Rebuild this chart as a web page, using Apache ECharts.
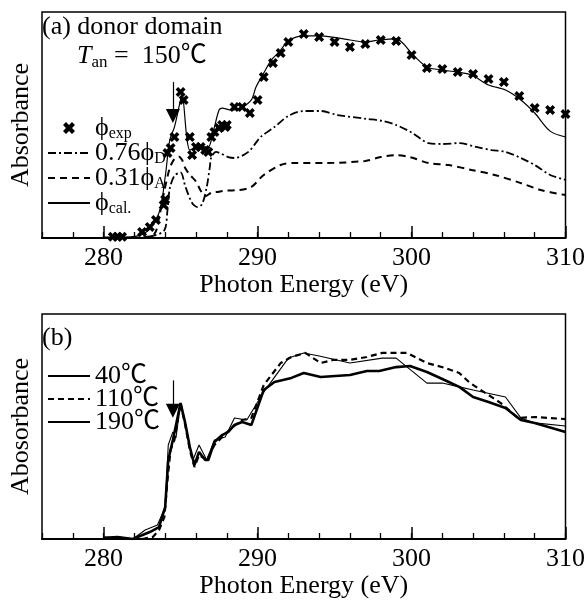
<!DOCTYPE html>
<html>
<head>
<meta charset="utf-8">
<script src="https://cdn.jsdelivr.net/npm/echarts@6/dist/echarts.min.js"></script>
<style>
  html, body { margin: 0; padding: 0; background: #fff; }
  #chart { width: 588px; height: 603px; }
</style>
</head>
<body>
<div id="chart"></div>
<script>
// photon energy axis (eV)
const eMin = 276;
const eMax = 310;
const majorTicks = [280, 290, 300, 310];
const arrowE = 284.5;

// (a) donor domain, Tan = 150C  -- [energy, absorbance (arb.)]
const phiExp = [
  [280.6, 0.5], [280.9, 0.5], [281.2, 0.5], [282.5, 2.7], [283.0, 4.9], [283.4, 8.0],
  [283.9, 14.6], [284.0, 17], [284.15, 37.6], [284.35, 39.8], [284.6, 44.7],
  [285.0, 64.6], [285.2, 61.1], [285.6, 44.7], [285.75, 36.7], [286.0, 40.3],
  [286.3, 40.3], [286.6, 38.9], [286.8, 38.1], [287.0, 44.7], [287.2, 46.9],
  [287.5, 48.7], [287.7, 50.0], [287.9, 49.1], [288.0, 50.0], [288.5, 58.0],
  [289.0, 58.0], [289.5, 55.3], [290.0, 61.1], [290.4, 71.2], [291.0, 77.4],
  [291.5, 81.9], [292.0, 86.7], [293, 90.3], [294, 88.9], [295, 86.7], [296, 84.5],
  [297, 85.8], [298, 87.6], [299, 87.2], [300, 81.0], [301, 75.2], [302, 74.8],
  [303, 73.5], [304, 72.6], [305, 70.4], [306, 69.0], [307, 62.8], [308, 57.5],
  [309, 56.6], [310, 54.9]
];
const phiD = [
  [281.9, 0], [283.2, 0.9], [283.95, 3.5], [284.15, 12.4], [284.3, 22], [284.6, 27.5],
  [285.0, 29], [285.3, 23], [285.75, 15.5], [286.1, 13.7], [286.4, 15.0], [286.7, 22.6],
  [286.9, 31.4], [287.0, 35.8], [287.3, 38.1], [287.55, 37.6], [288.1, 35.8],
  [288.5, 35.4], [289.4, 38.1], [290.2, 44.7], [291.1, 49.1], [292.0, 54.0],
  [293.0, 56.2], [294.1, 56.2], [295.2, 54.4], [297.1, 52.7], [298.1, 51.8],
  [299.0, 50.0], [300.05, 46.5], [301.1, 42.0], [302.0, 41.6], [303.1, 42.0],
  [304.2, 40.3], [305.2, 38.9], [306.1, 38.1], [307.1, 35.4], [308.0, 32.3],
  [309.0, 27.9], [310.0, 25.7]
];
const phiA = [
  [282.5, 0], [283.3, 1.8], [283.6, 9], [283.95, 21], [284.3, 31], [284.6, 35],
  [284.9, 36], [285.1, 34.5], [285.3, 31], [285.6, 28], [286.0, 25], [286.3, 21],
  [286.6, 18.5], [287.0, 20], [287.5, 20.5], [288.0, 21], [288.8, 21.2], [289.6, 22.6],
  [290.4, 27.9], [291.5, 32.3], [292.4, 33.2], [294.5, 33.2], [297.0, 34.1],
  [298.0, 35.8], [299.0, 36.7], [299.9, 35.8], [301.1, 33.2], [302.4, 32.3],
  [303.9, 30.1], [305.4, 27.9], [307.1, 24.3], [308.4, 21.2], [310, 19.0]
];
const phiCal = [
  [280.0, 0.4], [281.3, 0.4], [282.7, 2.2], [283.6, 11.1], [284.0, 27.0], [284.3, 43.4],
  [284.6, 49.1], [285.0, 61.1], [285.1, 63.3], [285.4, 44.7], [285.6, 38.9],
  [285.9, 39.8], [286.4, 40.3], [286.8, 40.3], [287.0, 43.4], [287.2, 49.1],
  [287.5, 56.6], [287.7, 57.5], [288.3, 56.6], [289.0, 58.0], [289.6, 61.1],
  [289.9, 66.8], [290.4, 73.0], [290.9, 78.8], [291.4, 82.3], [292.0, 87.2],
  [293.0, 89.4], [294.1, 89.4], [296.0, 87.6], [297.0, 86.7], [297.9, 87.6],
  [299.0, 88.1], [300.1, 81.0], [301.0, 75.7], [302.0, 74.3], [302.9, 73.5],
  [303.9, 72.1], [305.0, 67.7], [306.1, 65.5], [307.1, 61.1], [308.0, 55.3],
  [309.0, 47.3], [310.0, 44.7]
];

// (b) annealing temperature series
const t40 = [
  [280.0, 0.4], [280.9, 0.9], [281.9, 0], [283.0, 3.1], [283.6, 5.3], [284.0, 14.2],
  [284.2, 35.1], [284.5, 44.0], [285.0, 60.4], [285.3, 51.6], [285.6, 40.9],
  [285.9, 32.9], [286.2, 38.7], [286.6, 35.1], [286.8, 35.1], [287.2, 43.1],
  [287.7, 46.2], [288.1, 47.6], [288.5, 50.7], [289.0, 52.0], [289.6, 50.7],
  [290.4, 66.2], [291.1, 69.8], [292.2, 71.6], [293.0, 73.8], [294.1, 72.0],
  [296.0, 72.9], [297.1, 74.7], [297.9, 74.7], [299.0, 76.4], [299.9, 76.9],
  [301.0, 74.2], [302.0, 71.1], [303.1, 67.6], [304.0, 63.1], [305.0, 60.9],
  [306.1, 58.2], [307.1, 52.9], [308.0, 51.6], [310.0, 47.6]
];
const t110 = [
  [282.5, 0], [283.2, 0.9], [283.6, 4.0], [283.95, 9.8], [284.15, 26.2], [284.35, 39.6],
  [284.6, 44.0], [285.0, 60.4], [285.3, 50.7], [285.6, 39.6], [285.9, 32.0],
  [286.2, 37.3], [286.7, 35.1], [287.2, 41.8], [287.7, 45.3], [288.3, 49.3],
  [289.0, 52.9], [289.6, 53.8], [290.4, 68.4], [291.5, 78.2], [292.2, 80.9],
  [293.1, 82.7], [294.1, 78.2], [294.9, 79.6], [296.0, 79.6], [297.1, 80.9],
  [298.1, 82.7], [299.7, 82.7], [301.0, 78.2], [302.2, 76.0], [303.1, 73.8],
  [303.8, 69.3], [305.0, 64.0], [305.8, 60.4], [306.9, 53.8], [308.0, 54.2],
  [310.0, 53.3]
];
const t190 = [
  [280.0, 0.9], [281.0, 0.9], [281.9, 0], [282.7, 4.0], [283.5, 6.2], [284.0, 14.2],
  [284.2, 41.8], [284.5, 47.6], [284.7, 44.9], [285.0, 60.4], [285.3, 51.6],
  [285.6, 40.9], [285.8, 35.1], [286.2, 41.8], [286.7, 35.1], [287.2, 44.0],
  [287.9, 45.3], [288.5, 53.8], [289.3, 52.9], [290.4, 65.3], [292.0, 80.4],
  [293.0, 82.7], [294.0, 81.3], [296.0, 78.2], [298.1, 80.4], [299.0, 80.4],
  [301.0, 69.3], [302.0, 69.3], [303.1, 67.6], [304.0, 66.2], [306.1, 63.1],
  [307.1, 53.8], [308.0, 51.6], [310.0, 50.2]
];

// arrow marking the pi* peak: [start, tip] absorbance
const arrowA = [69, 54];
const arrowB = [70.5, 57];

const serif = 'Liberation Serif, Times New Roman, Noto Sans CJK JP, serif';
const fs = 26;

const legendNames = {
  'ϕexp': '{m|ϕ}{s|exp}',
  '0.76ϕD': '{m|0.76ϕ}{s|D}',
  '0.31ϕA': '{m|0.31ϕ}{s|A}',
  'ϕcal.': '{m|ϕ}{s|cal.}'
};
const legendRich = {
  m: { fontSize: fs, fontFamily: serif, color: '#000' },
  s: { fontSize: 16, fontFamily: serif, color: '#000', padding: [12, 0, 0, 0] }
};
const noSymbol = { color: 'rgba(0,0,0,0)', borderWidth: 0 };

const crossSymbol = 'path://M0,2.5 L2.5,0 L5,2.5 L7.5,0 L10,2.5 L7.5,5 L10,7.5 L7.5,10 L5,7.5 L2.5,10 L0,7.5 L2.5,5 Z';

const makeXAxes = (gridIndex) => [
  {
    gridIndex,
    type: 'value',
    min: eMin,
    max: eMax,
    interval: 2,
    axisLine: { lineStyle: { color: '#000', width: 2 } },
    axisTick: { inside: true, length: 6, lineStyle: { color: '#000', width: 1.3 } },
    axisLabel: { customValues: majorTicks, fontSize: fs, fontFamily: serif, color: '#000', margin: 7 },
    splitLine: { show: false },
    name: 'Photon Energy (eV)',
    nameLocation: 'middle',
    nameGap: 34,
    nameTextStyle: { fontSize: fs, fontFamily: serif, color: '#000' }
  },
  {
    gridIndex,
    type: 'value',
    position: 'bottom',
    min: eMin,
    max: eMax,
    axisLine: { show: false },
    axisTick: { show: true, inside: true, length: 12, customValues: majorTicks, lineStyle: { color: '#000', width: 1.5 } },
    axisLabel: { show: false },
    splitLine: { show: false }
  }
];

const makeYAxis = (gridIndex, name) => ({
  gridIndex,
  type: 'value',
  min: 0,
  max: 100,
  axisLine: { show: false },
  axisTick: { show: false },
  axisLabel: { show: false },
  splitLine: { show: false },
  name,
  nameLocation: 'middle',
  nameGap: 8,
  nameTextStyle: { fontSize: fs, fontFamily: serif, color: '#000' }
});

const lineSeries = (name, data, axis, width, type, extra) => ({
  name,
  type: 'line',
  data,
  xAxisIndex: axis * 2,
  yAxisIndex: axis,
  symbol: 'none',
  smooth: axis === 0 ? 0.3 : false,
  lineStyle: { color: '#000', width, type },
  itemStyle: { color: '#000' },
  ...extra
});

const arrowMark = (range) => ({
  silent: true,
  symbol: ['none', 'triangle'],
  symbolSize: 14,
  label: { show: false },
  lineStyle: { color: '#000', width: 1.2, type: 'solid' },
  emphasis: { disabled: true },
  data: [[{ coord: [arrowE, range[0]] }, { coord: [arrowE, range[1]] }]]
});

const chart = echarts.init(document.getElementById('chart'));
chart.setOption({
  animation: false,
  backgroundColor: '#fff',
  grid: [
    { left: 38, top: 12, width: 530, height: 226, show: true, borderColor: '#000', borderWidth: 1.5 },
    { left: 38, top: 314, width: 530, height: 225, show: true, borderColor: '#000', borderWidth: 1.5 }
  ],
  xAxis: [...makeXAxes(0), ...makeXAxes(1)],
  yAxis: [makeYAxis(0, 'Absorbance'), makeYAxis(1, 'Abosorbance')],
  legend: [
    {
      orient: 'vertical',
      left: 42,
      top: 110,
      itemWidth: 42,
      itemHeight: 12,
      itemGap: -2,
      data: [
        { name: 'ϕexp', itemStyle: { opacity: 1 } },
        { name: '0.76ϕD', itemStyle: noSymbol },
        { name: '0.31ϕA', itemStyle: noSymbol },
        { name: 'ϕcal.', itemStyle: noSymbol }
      ],
      formatter: (n) => legendNames[n],
      textStyle: { fontFamily: serif, rich: legendRich },
      selectedMode: false
    },
    {
      orient: 'vertical',
      left: 42,
      top: 358,
      itemWidth: 42,
      itemHeight: 12,
      itemGap: -3,
      data: ['40℃', '110℃', '190℃'].map((name) => ({ name, itemStyle: noSymbol })),
      textStyle: { fontSize: fs, fontFamily: serif, color: '#000' },
      selectedMode: false
    }
  ],
  graphic: [
    {
      type: 'text', left: 42, top: 14,
      style: { text: '(a) donor domain', font: fs + 'px ' + serif, fill: '#000' }
    },
    {
      type: 'text', left: 77, top: 42,
      style: {
        text: '{i|T}{s|an}{n| =  150℃}',
        fill: '#000',
        rich: {
          i: { fontSize: fs, fontFamily: serif, fontStyle: 'italic', lineHeight: 30 },
          s: { fontSize: 17, fontFamily: serif, padding: [12, 0, 0, 0], lineHeight: 30 },
          n: { fontSize: fs, fontFamily: serif, lineHeight: 30 }
        }
      }
    },
    {
      type: 'text', left: 42, top: 325,
      style: { text: '(b)', font: fs + 'px ' + serif, fill: '#000' }
    }
  ],
  series: [
    {
      name: 'ϕexp',
      type: 'scatter',
      data: phiExp,
      xAxisIndex: 0,
      yAxisIndex: 0,
      symbol: crossSymbol,
      symbolSize: 10,
      symbolKeepAspect: true,
      itemStyle: { color: '#000', opacity: 1 },
      z: 5
    },
    lineSeries('0.76ϕD', phiD, 0, 1.8, [8, 3, 2, 3]),
    lineSeries('0.31ϕA', phiA, 0, 2, [7, 5]),
    lineSeries('ϕcal.', phiCal, 0, 1.2, 'solid', { markLine: arrowMark(arrowA) }),
    lineSeries('40℃', t40, 1, 2.6, 'solid', { markLine: arrowMark(arrowB) }),
    lineSeries('110℃', t110, 1, 2.2, [6, 4]),
    lineSeries('190℃', t190, 1, 1.1, 'solid')
  ]
});
</script>
</body>
</html>
